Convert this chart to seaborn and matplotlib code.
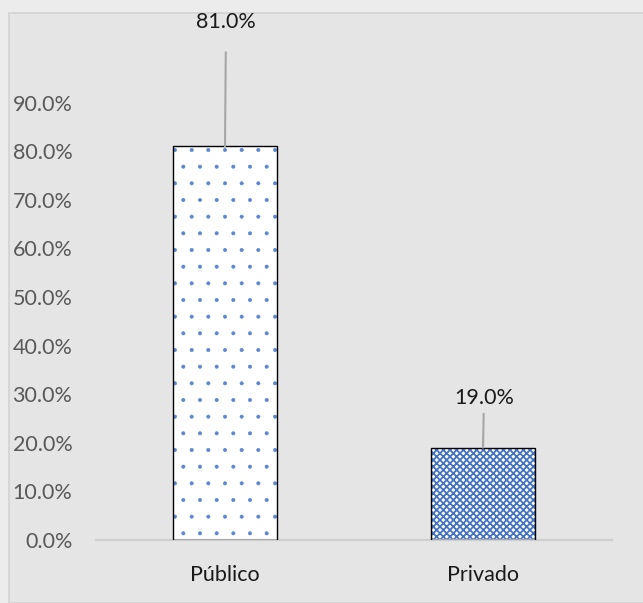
import matplotlib
matplotlib.use("Agg")
import matplotlib.pyplot as plt
import matplotlib.patches as mpatches
import seaborn as sns
import pandas as pd

categories = ["Público", "Privado"]
shares = [0.81, 0.19]
value_labels = ["81.0%", "19.0%"]
y_ticks = [0.0, 0.1, 0.2, 0.3, 0.4, 0.5, 0.6, 0.7, 0.8, 0.9]
y_tick_labels = ["0.0%", "10.0%", "20.0%", "30.0%", "40.0%", "50.0%",
                 "60.0%", "70.0%", "80.0%", "90.0%"]

sns.set_theme(style="white")
plt.rcParams["font.family"] = ["Lato", "DejaVu Sans"]
plt.rcParams["hatch.linewidth"] = 0.4

W, H = 643, 603
fig = plt.figure(figsize=(W / 100, H / 100), dpi=100, facecolor="#ececec")

# chart frame, kept underneath the axes
frame = mpatches.Rectangle((9 / W, 0), 1, 1 - 13 / H, transform=fig.transFigure,
                           facecolor="#e5e5e5", edgecolor="#d2d2d2", lw=1.2, zorder=-10)
fig.patches.append(frame)

ax_left, ax_right = 96 / W, 612 / W
ax_bottom, ax_top = (H - 540) / H, (H - 54) / H
ax = fig.add_axes([ax_left, ax_bottom, ax_right - ax_left, ax_top - ax_bottom])
ax.set_zorder(5)
ax.set_facecolor("none")

df = pd.DataFrame({"sector": categories, "share": shares})
sns.barplot(data=df, x="sector", y="share", order=categories, color="white",
            width=0.4, linewidth=0, ax=ax, saturation=1)

# blue pattern fills, then a black outline on each bar
hatches = [".", "xxxxx"]
hatch_colors = ["#5a86d0", "#4472c4"]
hatch_widths = [0.4, 1.3]
for patch, h, hc, hw in list(zip(ax.patches, hatches, hatch_colors, hatch_widths)):
    patch.set_hatch(h)
    patch.set_facecolor("white")
    patch.set_edgecolor(hc)
    patch.set_linewidth(0)
    if hasattr(patch, "set_hatch_linewidth"):
        patch.set_hatch_linewidth(hw)
    outline = mpatches.Rectangle(patch.get_xy(), patch.get_width(), patch.get_height(),
                                 fill=False, edgecolor="black", lw=1.0, zorder=3)
    ax.add_patch(outline)

ax.set_ylim(0, 1.0)
ax.set_xlim(-0.5, 1.5)
ax.set_yticks(y_ticks)
ax.set_yticklabels(y_tick_labels)
ax.set_xlabel("")
ax.set_ylabel("")
ax.tick_params(axis="y", length=0, pad=17, labelsize=15.5, labelcolor="#595959")
ax.tick_params(axis="x", length=0, pad=18, labelsize=15.5, labelcolor="#1a1a1a")

for s in ["top", "right", "left"]:
    ax.spines[s].set_visible(False)
ax.spines["bottom"].set_color("#cfcfcf")
ax.spines["bottom"].set_linewidth(1.6)

# value labels with leader lines
offsets = [(1, 124), (1, 50)]
gaps = [12, 2]
for i, (v, lab, off, g) in enumerate(zip(shares, value_labels, offsets, gaps)):
    ax.annotate(lab, xy=(i, v), xytext=off, textcoords="offset pixels",
                ha="center", va="center", fontsize=15.5, color="#1a1a1a",
                annotation_clip=False,
                arrowprops=dict(arrowstyle="-", color="#a6a6a6", lw=1.5,
                                shrinkA=g, shrinkB=0))

fig.savefig("out.png", dpi=100, facecolor=fig.get_facecolor())
